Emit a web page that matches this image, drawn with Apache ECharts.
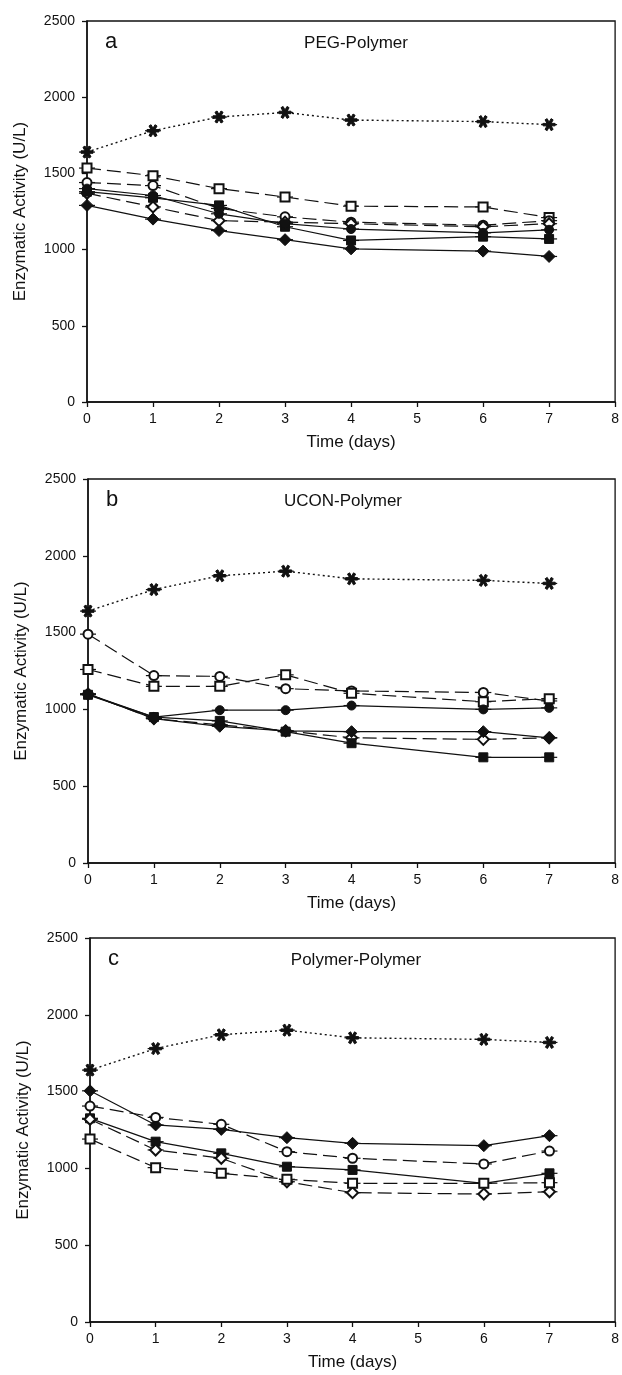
<!DOCTYPE html>
<html>
<head>
<meta charset="utf-8">
<script src="https://cdn.jsdelivr.net/npm/echarts@6/dist/echarts.min.js"></script>
<style>
  html, body { margin: 0; padding: 0; background: #fff; }
  #chart { width: 622px; height: 1375px; }
</style>
</head>
<body>
<div id="chart"></div>
<script>
// sampling days
const days = [0, 1, 2, 3, 4, 6, 7];

// control (same in every panel)
const control = [1640, 1780, 1870, 1900, 1850, 1840, 1820];

// a: PEG-Polymer
const pegOpenSquare   = [1535, 1485, 1400, 1345, 1285, 1280, 1210];
const pegOpenCircle   = [1440, 1420, 1270, 1215, 1180, 1160, 1190];
const pegOpenDiamond  = [1370, 1280, 1190, 1180, 1170, 1150, 1170];
const pegSquare       = [1380, 1340, 1290, 1150, 1060, 1085, 1070];
const pegCircle       = [1400, 1355, 1235, 1170, 1135, 1110, 1130];
const pegDiamond      = [1290, 1200, 1125, 1065, 1005, 990, 955];

// b: UCON-Polymer
const uconOpenCircle  = [1490, 1220, 1215, 1135, 1120, 1110, 1055];
const uconOpenSquare  = [1260, 1150, 1150, 1225, 1105, 1050, 1070];
const uconCircle      = [1100, 950, 995, 995, 1025, 1000, 1010];
const uconDiamond     = [1100, 940, 890, 860, 855, 855, 815];
const uconOpenDiamond = [1100, 940, 900, 860, 815, 805, 815];
const uconSquare      = [1095, 950, 925, 855, 780, 688, 688];

// c: Polymer-Polymer
const ppDiamond       = [1505, 1283, 1254, 1200, 1163, 1148, 1213];
const ppOpenCircle    = [1406, 1332, 1287, 1109, 1066, 1029, 1113];
const ppSquare        = [1326, 1174, 1098, 1011, 990, 903, 968];
const ppOpenDiamond   = [1320, 1120, 1066, 913, 842, 833, 848];
const ppOpenSquare    = [1191, 1005, 968, 929, 903, 903, 907];

const panelLetters = ['a', 'b', 'c'];
const panelTitles = ['PEG-Polymer', 'UCON-Polymer', 'Polymer-Polymer'];

const ink = '#111';
const starPath = 'path://M0,4L10,4L10,6L0,6Z' +
  'M1.63,1.17L3.37,0.17L8.37,8.83L6.63,9.83Z' +
  'M6.63,0.17L8.37,1.17L3.37,9.83L1.63,8.83Z';

const kinds = {
  star:        { symbol: starPath, size: 12, dash: [2, 3] },
  square:      { symbol: 'rect', size: 9, dash: 'solid' },
  circle:      { symbol: 'circle', size: 9, dash: 'solid' },
  diamond:     { symbol: 'diamond', size: 12, dash: 'solid' },
  openSquare:  { symbol: 'emptyRect', size: 9, dash: [14, 6] },
  openCircle:  { symbol: 'emptyCircle', size: 9, dash: [14, 6] },
  openDiamond: { symbol: 'emptyDiamond', size: 11, dash: [14, 6] }
};

function pairs(values) {
  return days.map(function(d, i) { return [d, values[i]]; });
}

function line(name, values, kind, grid) {
  let k = kinds[kind];
  return {
    name: name,
    type: 'line',
    xAxisIndex: grid,
    yAxisIndex: grid,
    z: 3,
    data: pairs(values),
    symbol: k.symbol,
    symbolSize: k.size,
    showAllSymbol: true,
    animation: false,
    itemStyle: { color: ink, borderColor: ink, borderWidth: 1 },
    lineStyle: { color: ink, width: kind === 'star' ? 1.4 : 1.2, type: k.dash }
  };
}

// short error-bar caps through every point of a panel
function caps(valueLists, grid) {
  let data = [];
  valueLists.forEach(function(vals) {
    days.forEach(function(d, i) { data.push([d, vals[i]]); });
  });
  return {
    type: 'custom',
    xAxisIndex: grid,
    yAxisIndex: grid,
    z: 2,
    silent: true,
    animation: false,
    data: data,
    renderItem: function(params, api) {
      let p = api.coord([api.value(0), api.value(1)]);
      return {
        type: 'line',
        shape: { x1: p[0] - 8, y1: p[1], x2: p[0] + 8, y2: p[1] },
        style: { stroke: ink, lineWidth: 1.2 }
      };
    }
  };
}

// plot boxes
const grids = [
  { left: 87, top: 21, width: 529, height: 381 },
  { left: 88, top: 479, width: 528, height: 384 },
  { left: 90, top: 938, width: 530, height: 384 }
];

let xAxes = [], yAxes = [];
grids.forEach(function(g, i) {
  xAxes.push({
    gridIndex: i, type: 'value', min: 0, max: 8, interval: 1,
    name: 'Time (days)', nameLocation: 'middle', nameGap: 32,
    nameTextStyle: { fontSize: 17, color: ink, fontFamily: 'Liberation Sans' },
    axisLine: { show: true, onZero: false, lineStyle: { color: ink, width: 1.5 } },
    axisTick: { show: true, inside: false, length: 5, lineStyle: { color: ink, width: 1.3 } },
    axisLabel: { fontSize: 14, color: ink, margin: 10, fontFamily: 'Liberation Sans' },
    splitLine: { show: false }
  });
  yAxes.push({
    gridIndex: i, type: 'value', min: 0, max: 2500, interval: 500,
    name: 'Enzymatic Activity (U/L)', nameLocation: 'middle', nameGap: 58, nameRotate: 90,
    nameTextStyle: { fontSize: 17, color: ink, fontFamily: 'Liberation Sans' },
    axisLine: { show: true, onZero: false, lineStyle: { color: ink, width: 1.5 } },
    axisTick: { show: true, inside: false, length: 5, lineStyle: { color: ink, width: 1.3 } },
    axisLabel: {
      fontSize: 14, color: ink, margin: 12, fontFamily: 'Liberation Sans',
      formatter: function(v) { return String(v); }
    },
    splitLine: { show: false }
  });
});

let series = [
  caps([control, pegOpenSquare, pegOpenCircle, pegOpenDiamond, pegSquare, pegCircle, pegDiamond], 0),
  line('Control', control, 'star', 0),
  line('Open square', pegOpenSquare, 'openSquare', 0),
  line('Open circle', pegOpenCircle, 'openCircle', 0),
  line('Open diamond', pegOpenDiamond, 'openDiamond', 0),
  line('Square', pegSquare, 'square', 0),
  line('Circle', pegCircle, 'circle', 0),
  line('Diamond', pegDiamond, 'diamond', 0),

  caps([control, uconOpenCircle, uconOpenSquare, uconCircle, uconOpenDiamond, uconDiamond, uconSquare], 1),
  line('Control', control, 'star', 1),
  line('Open circle', uconOpenCircle, 'openCircle', 1),
  line('Open square', uconOpenSquare, 'openSquare', 1),
  line('Circle', uconCircle, 'circle', 1),
  line('Open diamond', uconOpenDiamond, 'openDiamond', 1),
  line('Diamond', uconDiamond, 'diamond', 1),
  line('Square', uconSquare, 'square', 1),

  caps([control, ppDiamond, ppOpenCircle, ppSquare, ppOpenDiamond, ppOpenSquare], 2),
  line('Control', control, 'star', 2),
  line('Diamond', ppDiamond, 'diamond', 2),
  line('Open circle', ppOpenCircle, 'openCircle', 2),
  line('Square', ppSquare, 'square', 2),
  line('Open diamond', ppOpenDiamond, 'openDiamond', 2),
  line('Open square', ppOpenSquare, 'openSquare', 2)
];

// panel letters and titles inside each box
const titleX = [356, 343, 356];
let graphics = [];
grids.forEach(function(g, i) {
  graphics.push({
    type: 'text', left: g.left + 18, top: g.top + 10, silent: true,
    style: { text: panelLetters[i], fontSize: 22, fill: ink, fontFamily: 'Liberation Sans' }
  });
  graphics.push({
    type: 'text', x: titleX[i], y: g.top + 22, silent: true,
    style: { text: panelTitles[i], fontSize: 17, fill: ink, fontFamily: 'Liberation Sans',
             align: 'center', verticalAlign: 'middle' }
  });
});

let chart = echarts.init(document.getElementById('chart'), null, { renderer: 'canvas' });
chart.setOption({
  backgroundColor: '#fff',
  animation: false,
  grid: grids.map(function(g) {
    return Object.assign({ show: true, borderColor: ink, borderWidth: 1.3, backgroundColor: 'transparent' }, g);
  }),
  xAxis: xAxes,
  yAxis: yAxes,
  graphic: graphics,
  series: series
});
</script>
</body>
</html>
